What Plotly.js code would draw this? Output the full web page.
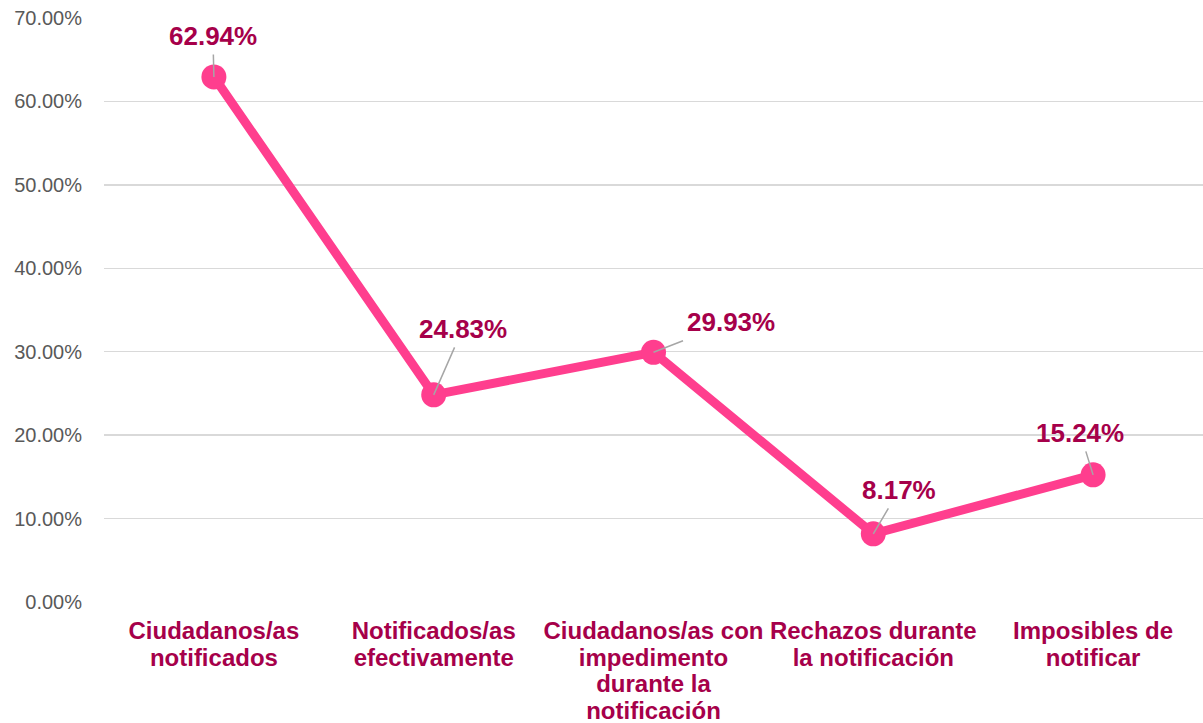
<!DOCTYPE html>
<html>
<head>
<meta charset="utf-8">
<script src="https://cdn.plot.ly/plotly-3.0.1.min.js"></script>
<style>html,body{margin:0;padding:0;background:#fff;}#chart{width:1203px;height:723px;}</style>
</head>
<body>
<div id="chart"></div>
<script>
const categories = [
  "Ciudadanos/as|notificados",
  "Notificados/as|efectivamente",
  "Ciudadanos/as con|impedimento|durante la|notificación",
  "Rechazos durante|la notificación",
  "Imposibles de|notificar"
];
const values = [62.94, 24.83, 29.93, 8.17, 15.24];
const labelOffsetX = [-1, 29, 77, 26, -13];
const labelOffsetY = [-41, -66, -30, -44, -42];
const yTickValues = [0, 10, 20, 30, 40, 50, 60, 70];
const yTickText = yTickValues.map(v => v.toFixed(2) + "%");

const lineColor = "#FF3E8E";
const labelColor = "#A6004A";

const xTickText = categories.map(c =>
  c.split("|").map(s => '<span style="font-size:24px">' + s + '</span>').join("<br>")
);

const trace = {
  x: categories,
  y: values,
  type: "scatter",
  mode: "lines+markers",
  line: {color: lineColor, width: 9},
  marker: {color: lineColor, size: 25},
  hoverinfo: "skip"
};

const annotations = values.map((v, i) => ({
  x: categories[i],
  y: v,
  xref: "x",
  yref: "y",
  text: v.toFixed(2) + "%",
  showarrow: true,
  arrowhead: 0,
  arrowwidth: 1.5,
  arrowcolor: "#A6A6A6",
  ax: labelOffsetX[i],
  ay: labelOffsetY[i],
  standoff: 0,
  borderpad: 3,
  font: {family: "Liberation Sans, Arial, sans-serif", size: 26, color: labelColor, weight: "bold"}
}));

const layout = {
  width: 1203,
  height: 723,
  margin: {l: 104, r: 0, t: 18, b: 121},
  paper_bgcolor: "#ffffff",
  plot_bgcolor: "#ffffff",
  showlegend: false,
  xaxis: {
    type: "category",
    range: [-0.5, 4.5],
    tickvals: categories,
    ticktext: xTickText,
    showgrid: false,
    zeroline: false,
    showline: false,
    ticks: "outside",
    ticklen: 11,
    tickcolor: "rgba(0,0,0,0)",
    tickfont: {family: "Liberation Sans, Arial, sans-serif", size: 20.6, color: labelColor, weight: "bold"},
    fixedrange: true
  },
  yaxis: {
    range: [0, 70],
    tickvals: yTickValues,
    ticktext: yTickText,
    showgrid: true,
    gridcolor: "#D9D9D9",
    gridwidth: 1.5,
    zeroline: false,
    showline: false,
    ticks: "outside",
    ticklen: 17,
    tickcolor: "rgba(0,0,0,0)",
    tickfont: {family: "Liberation Sans, Arial, sans-serif", size: 20, color: "#595959"},
    fixedrange: true
  },
  annotations: annotations
};

Plotly.newPlot("chart", [trace], layout, {displayModeBar: false, staticPlot: true});
</script>
</body>
</html>
